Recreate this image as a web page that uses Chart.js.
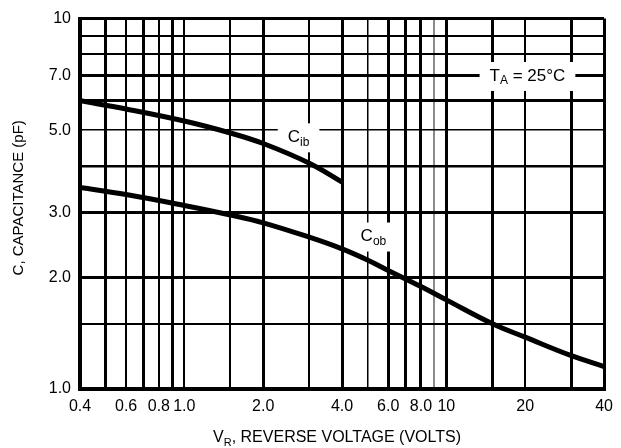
<!DOCTYPE html>
<html>
<head>
<meta charset="utf-8">
<script src="https://cdn.jsdelivr.net/npm/chart.js@4.4.1/dist/chart.umd.min.js"></script>
<style>
    html, body { margin: 0; background: #fff; }
</style>
</head>
<body>
<canvas id="cap-chart" width="621" height="448"></canvas>
<script>
// capacitance vs reverse voltage, log-log, T_A = 25 C
const CIB_VOLTS = [0.4, 0.6, 1.0, 1.5, 2.0, 3.0, 4.0];
const CIB_PF = [6.0, 5.70, 5.29, 4.91, 4.60, 4.07, 3.62];

const COB_VOLTS = [0.4, 0.6, 1.0, 1.5, 2.0, 3.0, 4.0, 5.0, 6.0, 8.0, 10, 15, 20, 30, 40];
const COB_PF = [3.50, 3.35, 3.13, 2.95, 2.81, 2.57, 2.39, 2.23, 2.09, 1.89, 1.74, 1.50, 1.38, 1.23, 1.15];

const X_GRID = [0.4, 0.5, 0.6, 0.7, 0.8, 0.9, 1, 1.5, 2, 3, 4, 5, 6, 7, 8, 9, 10, 15, 20, 30, 40];
const X_TICK_VALUES = [0.4, 0.6, 0.8, 1, 2, 4, 6, 8, 10, 20, 40];
const X_TICK_TEXT = ['0.4', '0.6', '0.8', '1.0', '2.0', '4.0', '6.0', '8.0', '10', '20', '40'];

const Y_GRID = [1, 1.5, 2, 3, 4, 5, 6, 7, 8, 9, 10];
const Y_TICK_VALUES = [1, 2, 3, 5, 7, 10];
const Y_TICK_TEXT = ['1.0', '2.0', '3.0', '5.0', '7.0', '10'];

// line weights of the printed grid
const X_LINE_WIDTH = { 0.5: 3, 0.6: 2, 0.7: 3, 0.8: 2, 0.9: 3, 1: 2, 1.5: 2, 2: 3, 3: 2, 4: 3, 5: 1.5, 6: 3, 7: 3, 8: 3, 9: 2, 10: 3, 15: 3, 20: 2, 30: 3, 40: 3 };
const Y_LINE_WIDTH = { 1.5: 2, 2: 3, 3: 3, 4: 2.5, 5: 1.5, 6: 3, 7: 3, 8: 2, 9: 2, 10: 3 };

const NOTES = [
    { main: 'C', sub: 'ib', rest: '', x: 2.73, y: 4.78 },
    { main: 'C', sub: 'ob', rest: '', x: 5.27, y: 2.58 },
    { main: 'T', sub: 'A', rest: ' = 25°C', x: 20.4, y: 7.0 }
];

const FONT = "'Liberation Sans', Arial, sans-serif";

function toPoints(xs, ys) {
    return xs.map((x, i) => ({ x: x, y: ys[i] }));
}

function labelFor(values, texts) {
    return value => {
        const i = values.indexOf(value);
        return i < 0 ? '' : texts[i];
    };
}

function drawSubText(ctx, parts, cx, cy, align) {
    const widths = parts.map(p => { ctx.font = p.font; return ctx.measureText(p.text).width; });
    const total = widths.reduce((a, b) => a + b, 0);
    let x = align === 'center' ? cx - total / 2 : cx;
    parts.forEach((p, i) => {
        ctx.font = p.font;
        ctx.fillText(p.text, x, cy + (p.dy || 0));
        x += widths[i];
    });
    return total;
}

function noteParts(note) {
    const parts = [
        { text: note.main, font: `17px ${FONT}` },
        { text: note.sub, font: `12px ${FONT}`, dy: 5 }
    ];
    if (note.rest) parts.push({ text: note.rest, font: `17px ${FONT}` });
    return parts;
}

const notesPlugin = {
    id: 'notes',
    beforeDatasetsDraw(chart) {
        const ctx = chart.ctx;
        const xs = chart.scales.x, ys = chart.scales.y;
        ctx.save();
        NOTES.forEach(note => {
            const parts = noteParts(note);
            const w = parts.reduce((sum, p) => { ctx.font = p.font; return sum + ctx.measureText(p.text).width; }, 0);
            const cx = xs.getPixelForValue(note.x), cy = ys.getPixelForValue(note.y);
            ctx.fillStyle = '#fff';
            ctx.fillRect(cx - w / 2 - 10, cy - 14, w + 20, 29);
        });
        ctx.restore();
    },
    afterDatasetsDraw(chart) {
        const ctx = chart.ctx;
        const xs = chart.scales.x, ys = chart.scales.y;
        ctx.save();
        ctx.fillStyle = '#000';
        ctx.textBaseline = 'middle';
        NOTES.forEach(note => {
            drawSubText(ctx, noteParts(note), xs.getPixelForValue(note.x), ys.getPixelForValue(note.y), 'center');
        });
        ctx.restore();
    },
    afterDraw(chart) {
        const ctx = chart.ctx;
        const area = chart.chartArea;
        ctx.save();
        ctx.fillStyle = '#000';
        ctx.textBaseline = 'middle';
        drawSubText(ctx, [
            { text: 'V', font: `16px ${FONT}` },
            { text: 'R', font: `11px ${FONT}`, dy: 5 },
            { text: ', REVERSE VOLTAGE (VOLTS)', font: `16px ${FONT}` }
        ], (area.left + area.right) / 2 - 5, 438, 'center');

        ctx.translate(19, (area.top + area.bottom) / 2 - 6);
        ctx.rotate(-Math.PI / 2);
        ctx.font = `15px ${FONT}`;
        ctx.textAlign = 'center';
        ctx.fillText('C, CAPACITANCE (pF)', 0, 0);
        ctx.restore();
    }
};

new Chart(document.getElementById('cap-chart'), {
    type: 'line',
    data: {
        datasets: [
            {
                label: 'Cib',
                data: toPoints(CIB_VOLTS, CIB_PF),
                borderColor: '#000',
                borderWidth: 5,
                pointRadius: 0,
                tension: 0.4
            },
            {
                label: 'Cob',
                data: toPoints(COB_VOLTS, COB_PF),
                borderColor: '#000',
                borderWidth: 5,
                pointRadius: 0,
                tension: 0.4
            }
        ]
    },
    options: {
        responsive: false,
        animation: false,
        events: [],
        layout: { padding: { top: 18, right: 14, left: 0, bottom: 0 } },
        plugins: {
            legend: { display: false },
            tooltip: { enabled: false }
        },
        scales: {
            x: {
                type: 'logarithmic',
                min: 0.4,
                max: 40,
                afterBuildTicks: scale => { scale.ticks = X_GRID.map(v => ({ value: v })); },
                afterFit: scale => { scale.height = 59; },
                border: { display: true, color: '#000', width: 4 },
                grid: {
                    drawTicks: false,
                    color: c => (c.tick && c.tick.value === 9 ? '#8a8a8a' : '#000'),
                    lineWidth: c => (c.tick ? (X_LINE_WIDTH[c.tick.value] || 3) : 2)
                },
                ticks: {
                    autoSkip: false,
                    maxRotation: 0,
                    padding: 8,
                    color: '#000',
                    font: { family: FONT, size: 16 },
                    callback: labelFor(X_TICK_VALUES, X_TICK_TEXT)
                }
            },
            y: {
                type: 'logarithmic',
                min: 1,
                max: 10,
                afterBuildTicks: scale => { scale.ticks = Y_GRID.map(v => ({ value: v })); },
                afterFit: scale => { scale.width = 80; },
                border: { display: true, color: '#000', width: 4 },
                grid: {
                    drawTicks: false,
                    color: '#000',
                    lineWidth: c => (c.tick ? (Y_LINE_WIDTH[c.tick.value] || 3) : 2)
                },
                ticks: {
                    autoSkip: false,
                    padding: 9,
                    color: '#000',
                    font: { family: FONT, size: 16 },
                    callback: labelFor(Y_TICK_VALUES, Y_TICK_TEXT)
                }
            }
        }
    },
    plugins: [notesPlugin]
});
</script>
</body>
</html>
